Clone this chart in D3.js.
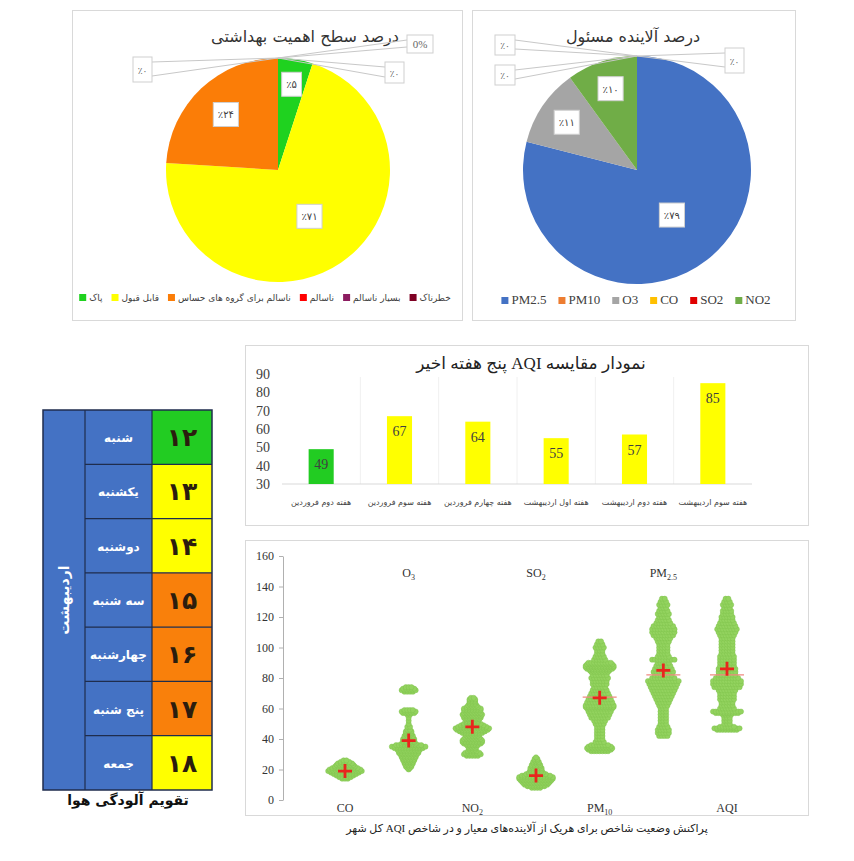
<!DOCTYPE html>
<html lang="fa">
<head>
<meta charset="UTF-8">
<title>AQI report</title>
<script src="https://cdn.jsdelivr.net/npm/d3@7"></script>
<style>
  body { margin: 0; background: #fff; }
</style>
</head>
<body>
<svg id="chart" width="854" height="861"></svg>
<script>
// ---------- data ----------
const levelNames = ["پاک", "قابل قبول", "ناسالم برای گروه های حساس", "ناسالم", "بسیار ناسالم", "خطرناک"];
const levelShares = [5, 71, 24, 0, 0, 0];
const levelColors = ["#1fd21f", "#ffff00", "#fb7d07", "#ff0000", "#8c1c60", "#7e0023"];
const levelZeroTexts = ["٪۰", "0%", "٪۰"];

const pollutantNames = ["PM2.5", "PM10", "O3", "CO", "SO2", "NO2"];
const pollutantShares = [79, 0, 11, 0, 0, 10];
const pollutantColors = ["#4472c4", "#ed7d31", "#a5a5a5", "#ffc000", "#e00000", "#70ad47"];
const pollutantZeroTexts = ["٪۰", "٪۰", "٪۰"];

const weeks = ["هفته دوم فروردین", "هفته سوم فروردین", "هفته چهارم فروردین",
               "هفته اول اردیبهشت", "هفته دوم اردیبهشت", "هفته سوم اردیبهشت"];
const weekAqi = [49, 67, 64, 55, 57, 85];
const weekColors = ["#22cc22", "#ffff00", "#ffff00", "#ffff00", "#ffff00", "#ffff00"];
const barTicks = [30, 40, 50, 60, 70, 80, 90];

const dayNames = ["شنبه", "یکشنبه", "دوشنبه", "سه شنبه", "چهارشنبه", "پنج شنبه", "جمعه"];
const dayDates = [12, 13, 14, 15, 16, 17, 18];
const dayColors = ["#22cc22", "#ffff00", "#ffff00", "#f9800b", "#f9800b", "#f9800b", "#ffff00"];
const monthName = "اردیبهشت";

const swarmKeys = ["CO", "O3", "NO2", "SO2", "PM10", "PM2.5", "AQI"];
const swarmBase = ["CO", "O", "NO", "SO", "PM", "PM", "AQI"];
const swarmSub = ["", "3", "2", "2", "10", "2.5", ""];
const swarmMeans = [19, 39, 48, 16, 67, 85, 86];
const swarmMedians = [null, null, null, null, 67.5, 82, 82];
const scatterTicks = [0, 20, 40, 60, 80, 100, 120, 140, 160];
// [value, number of stations/days at that value]
const coSwarm = [[14,3],[15,5],[16,7],[17,9],[18,11],[19,13],[20,12],[21,10],[22,8],[23,7],[24,6],[25,4],[26,2]];
const o3Swarm = [[20,1],[21,2],[22,3],[23,3],[24,4],[25,4],[26,5],[27,5],[28,6],[29,6],[30,7],[31,8],[32,8],[33,9],[34,11],[35,13],[36,10],[37,6],[38,5],[39,5],[40,5],[41,4],[42,4],[43,3],[44,3],[45,3],[46,2],[48,2],[50,1],[52,1],[54,1],[56,2],[57,5],[58,6],[59,4],[71,4],[72,6],[73,5],[74,3]];
const no2Swarm = [[29,5],[30,7],[31,6],[32,4],[33,3],[34,3],[35,4],[36,5],[37,7],[38,8],[39,8],[40,7],[41,6],[42,5],[43,6],[44,8],[45,10],[46,12],[47,13],[48,11],[49,9],[50,7],[51,5],[52,5],[53,6],[54,7],[55,7],[56,8],[57,7],[58,6],[59,7],[60,7],[61,5],[62,4],[63,3],[64,3],[65,3],[66,3],[67,2]];
const so2Swarm = [[8,4],[9,7],[10,9],[11,10],[12,11],[13,12],[14,13],[15,13],[16,11],[17,8],[18,6],[19,5],[20,5],[21,5],[22,4],[23,4],[24,3],[25,3],[26,2],[27,2],[28,1]];
const pm10Swarm = [[32,7],[33,9],[34,10],[35,9],[36,7],[38,4],[40,3],[42,3],[44,3],[46,3],[48,3],[50,4],[52,5],[54,7],[56,8],[58,9],[60,10],[61,11],[62,11],[64,10],[66,9],[68,8],[70,7],[72,6],[74,5],[76,6],[78,6],[80,7],[82,6],[84,7],[85,8],[86,10],[87,11],[88,11],[89,10],[90,9],[92,5],[94,4],[96,3],[98,3],[100,4],[102,3],[104,2]];
const pm25Swarm = [[42,4],[44,5],[46,5],[48,4],[50,3],[52,3],[54,3],[56,3],[58,3],[60,3],[62,4],[64,5],[66,6],[68,7],[70,8],[72,9],[74,10],[76,11],[78,12],[80,9],[82,7],[84,8],[86,7],[88,6],[90,5],[92,9],[94,5],[96,4],[98,4],[100,4],[102,4],[104,5],[106,6],[108,8],[110,9],[112,9],[114,8],[116,6],[118,5],[120,4],[122,5],[124,4],[126,3],[128,4],[130,3],[132,2]];
const aqiSwarm = [[46,8],[47,10],[48,6],[50,3],[52,3],[54,3],[56,4],[57,9],[58,11],[60,6],[62,5],[64,5],[66,6],[68,6],[70,6],[72,7],[74,10],[76,11],[78,11],[80,9],[82,7],[84,7],[86,7],[88,6],[90,6],[92,6],[94,6],[96,5],[98,5],[100,5],[102,5],[104,5],[106,5],[108,6],[110,7],[112,8],[114,7],[116,6],[118,5],[120,5],[122,4],[124,4],[126,3],[128,4],[130,3],[132,2]];
const swarms = [coSwarm, o3Swarm, no2Swarm, so2Swarm, pm10Swarm, pm25Swarm, aqiSwarm];

// ---------- helpers ----------
const svg = d3.select("#chart");
const SERIF = '"Liberation Serif", "DejaVu Sans", serif';
const FA = '"DejaVu Sans", sans-serif';
const toFa = n => String(n).replace(/\d/g, d => "۰۱۲۳۴۵۶۷۸۹"[+d]);

// panel frames
[[72, 10, 390, 310], [472, 10, 323, 310], [245, 345, 563, 180], [245, 540, 563, 275]]
  .forEach(([x, y, w, h]) => svg.append("rect")
    .attr("x", x + 0.5).attr("y", y + 0.5).attr("width", w).attr("height", h)
    .attr("fill", "none").attr("stroke", "#d9d9d9"));

// ---------- pies ----------
function drawPie(opts) {
  const { names, shares, colors, zeroTexts, cx, cy, r, title, titleX, zeroBoxes, legendY, legendFont, legendSize, legendGap, legendCenter } = opts;
  const g = svg.append("g");

  g.append("text").attr("x", titleX).attr("y", 42)
    .attr("text-anchor", "middle").attr("direction", "rtl")
    .style("font-family", FA).style("font-size", "16px").attr("fill", "#333")
    .text(title);

  const pie = d3.pie().sort(null).value(d => d)(shares);
  const arc = d3.arc().innerRadius(0).outerRadius(r);

  g.selectAll("path.slice").data(pie.filter(d => d.value > 0)).enter()
    .append("path")
    .attr("transform", `translate(${cx},${cy})`)
    .attr("d", arc)
    .attr("fill", d => colors[d.index]);

  // labels on non-zero slices
  pie.filter(d => d.value > 0).forEach(d => {
    const mid = (d.startAngle + d.endAngle) / 2;
    const k = d.value > 50 ? 0.5 : 0.8 - d.value / 200;
    const lx = cx + Math.sin(mid) * r * k;
    const ly = cy - Math.cos(mid) * r * k;
    const t = g.append("text").attr("x", lx).attr("y", ly + 4)
      .attr("text-anchor", "middle")
      .style("font-family", FA).style("font-size", "10px").attr("fill", "#404040")
      .text("٪" + toFa(d.value));
    const w = t.node().getComputedTextLength() + 9;
    g.insert("rect", () => t.node())
      .attr("x", lx - w / 2).attr("y", ly - 12).attr("width", w).attr("height", 24)
      .attr("fill", "#fff").attr("stroke", "#d0d0d0");
  });

  // zero slices: boxes with leader lines to the top of the pie
  const top = [cx, cy - r];
  pie.filter(d => d.value === 0).forEach((d, i) => {
    const b = zeroBoxes[i];
    const edgeX = b.x < cx ? b.x + b.w : b.x;
    g.append("path")
      .attr("d", `M${edgeX},${b.y + 5}L${top[0]},${top[1]}L${edgeX},${b.y + b.h - 6}`)
      .attr("fill", "none").attr("stroke", "#c8c8c8").attr("stroke-width", 1);
    g.append("rect").attr("x", b.x).attr("y", b.y).attr("width", b.w).attr("height", b.h)
      .attr("fill", "#fff").attr("stroke", "#cfcfcf");
    g.append("text").attr("x", b.x + b.w / 2).attr("y", b.y + b.h / 2 + 4)
      .attr("text-anchor", "middle")
      .style("font-family", zeroTexts[i] === "0%" ? SERIF : FA)
      .style("font-size", zeroTexts[i] === "0%" ? "11px" : "9px").attr("fill", "#666")
      .text(zeroTexts[i]);
  });

  // legend, packed left to right and centred in the panel
  const lg = g.append("g");
  let x = 0;
  names.forEach((n, i) => {
    lg.append("rect").attr("x", x).attr("y", legendY - 7).attr("width", 7).attr("height", 7)
      .attr("fill", colors[i]);
    const t = lg.append("text").attr("x", x + 10).attr("y", legendY)
      .style("font-family", legendFont).style("font-size", legendSize).attr("fill", "#404040")
      .text(n);
    x += 10 + t.node().getComputedTextLength() + legendGap;
  });
  lg.attr("transform", `translate(${legendCenter - (x - legendGap) / 2},0)`);
}

drawPie({
  names: levelNames, shares: levelShares, colors: levelColors, zeroTexts: levelZeroTexts,
  cx: 278, cy: 170, r: 112, title: "درصد سطح اهمیت بهداشتی", titleX: 305,
  zeroBoxes: [{ x: 133, y: 57, w: 19, h: 25 }, { x: 407, y: 35, w: 26, h: 18 }, { x: 385, y: 62, w: 19, h: 21 }],
  legendY: 301, legendFont: FA, legendSize: "9px", legendGap: 9, legendCenter: 265
});

drawPie({
  names: pollutantNames, shares: pollutantShares, colors: pollutantColors, zeroTexts: pollutantZeroTexts,
  cx: 637, cy: 170, r: 114, title: "درصد آلاینده مسئول", titleX: 633,
  zeroBoxes: [{ x: 495, y: 35, w: 20, h: 20 }, { x: 495, y: 65, w: 20, h: 20 }, { x: 725, y: 48, w: 19, h: 25 }],
  legendY: 304, legendFont: SERIF, legendSize: "13px", legendGap: 12, legendCenter: 636
});

// ---------- weekly AQI bars ----------
const bx = d3.scaleBand().domain(weeks).range([282, 752]).padding(0);
const by = d3.scaleLinear().domain([30, 90]).range([484, 374]);
const bars = svg.append("g");

bars.append("text").attr("x", 531).attr("y", 369)
  .attr("text-anchor", "middle").attr("direction", "rtl")
  .style("font-family", SERIF).style("font-size", "17px").attr("fill", "#222")
  .text("نمودار مقایسه AQI پنج هفته اخیر");

bars.selectAll("line.sep").data(weeks.slice(1)).enter().append("line")
  .attr("x1", d => bx(d)).attr("x2", d => bx(d))
  .attr("y1", by(90) + 3).attr("y2", by(30))
  .attr("stroke", "#f0f0f0");

const bAxis = bars.append("g").attr("transform", "translate(272,0)")
  .call(d3.axisLeft(by).tickValues(barTicks).tickSize(0).tickPadding(2));
bAxis.select(".domain").remove();
bAxis.selectAll("text").style("font-family", SERIF).style("font-size", "14px").attr("fill", "#404040");

bars.append("line").attr("x1", 282).attr("x2", 752)
  .attr("y1", by(30)).attr("y2", by(30)).attr("stroke", "#d9d9d9");

const barW = bx.bandwidth() * 0.32;
bars.selectAll("rect.bar").data(weeks).enter().append("rect")
  .attr("x", d => bx(d) + (bx.bandwidth() - barW) / 2)
  .attr("y", (d, i) => by(weekAqi[i]))
  .attr("width", barW)
  .attr("height", (d, i) => by(30) - by(weekAqi[i]))
  .attr("fill", (d, i) => weekColors[i]);

bars.selectAll("text.val").data(weeks).enter().append("text")
  .attr("x", d => bx(d) + bx.bandwidth() / 2)
  .attr("y", (d, i) => by(weekAqi[i]) + 20)
  .attr("text-anchor", "middle")
  .style("font-family", SERIF).style("font-size", "14px").attr("fill", "#404040")
  .text((d, i) => weekAqi[i]);

bars.selectAll("text.cat").data(weeks).enter().append("text")
  .attr("x", d => bx(d) + bx.bandwidth() / 2)
  .attr("y", 505)
  .attr("text-anchor", "middle")
  .style("font-family", FA).style("font-size", "8px").attr("fill", "#404040")
  .text(d => d);

// ---------- calendar table ----------
const cal = svg.append("g");
const ry = d3.scaleBand().domain(dayNames).range([410, 790]);
const colX = [43, 85, 152, 212];
const navy = "#1f2d4d";

cal.append("rect").attr("x", colX[0]).attr("y", 410).attr("width", colX[2] - colX[0]).attr("height", 380)
  .attr("fill", "#4472c4");
cal.selectAll("rect.num").data(dayNames).enter().append("rect")
  .attr("x", colX[2]).attr("y", d => ry(d)).attr("width", colX[3] - colX[2]).attr("height", ry.bandwidth())
  .attr("fill", (d, i) => dayColors[i]);

// grid lines
cal.selectAll("line.row").data(dayNames.slice(1)).enter().append("line")
  .attr("x1", colX[1]).attr("x2", colX[3]).attr("y1", d => ry(d)).attr("y2", d => ry(d))
  .attr("stroke", navy).attr("stroke-width", 1.2);
[colX[1], colX[2]].forEach(x => cal.append("line")
  .attr("x1", x).attr("x2", x).attr("y1", 410).attr("y2", 790)
  .attr("stroke", navy).attr("stroke-width", 1.2));
cal.append("rect").attr("x", colX[0]).attr("y", 410).attr("width", colX[3] - colX[0]).attr("height", 380)
  .attr("fill", "none").attr("stroke", navy).attr("stroke-width", 1.5);

cal.selectAll("text.day").data(dayNames).enter().append("text")
  .attr("x", (colX[1] + colX[2]) / 2).attr("y", d => ry(d) + ry.bandwidth() / 2 + 5)
  .attr("text-anchor", "middle")
  .style("font-family", FA).style("font-size", "12px").style("font-weight", "bold").attr("fill", "#fff")
  .text(d => d);

cal.selectAll("text.date").data(dayNames).enter().append("text")
  .attr("x", (colX[2] + colX[3]) / 2).attr("y", d => ry(d) + ry.bandwidth() / 2 + 9)
  .attr("text-anchor", "middle")
  .style("font-family", FA).style("font-size", "25px").style("font-weight", "bold").attr("fill", "#2b1d0e")
  .text((d, i) => toFa(dayDates[i]));

cal.append("text")
  .attr("transform", `translate(${(colX[0] + colX[1]) / 2 + 5},600) rotate(-90)`)
  .attr("text-anchor", "middle")
  .style("font-family", FA).style("font-size", "14px").style("font-weight", "bold").attr("fill", "#fff")
  .text(monthName);

cal.append("text").attr("x", 128).attr("y", 805)
  .attr("text-anchor", "middle")
  .style("font-family", FA).style("font-size", "14px").style("font-weight", "bold").attr("fill", "#111")
  .text("تقویم آلودگی هوا");

// ---------- beeswarm of pollutants ----------
const sc = svg.append("g");
const sx = d3.scalePoint().domain(swarmKeys).range([345, 727]);
const sy = d3.scaleLinear().domain([0, 160]).range([800, 556]);

const sAxis = sc.append("g").attr("transform", "translate(283,0)")
  .call(d3.axisLeft(sy).tickValues(scatterTicks).tickSize(4).tickSizeOuter(0).tickPadding(5));
sAxis.select(".domain").attr("stroke", "#b0b0b0");
sAxis.selectAll(".tick line").attr("stroke", "#b0b0b0");
sAxis.selectAll("text").style("font-family", SERIF).style("font-size", "12px").attr("fill", "#333");

const step = 2.8;
swarmKeys.forEach((k, ci) => {
  const cxp = sx(k);
  const dots = [];
  swarms[ci].forEach(([v, n]) => {
    for (let j = 0; j < n; j++) dots.push({ x: cxp + (j - (n - 1) / 2) * step, y: sy(v) });
  });
  sc.append("g").selectAll("circle").data(dots).enter().append("circle")
    .attr("cx", d => d.x).attr("cy", d => d.y).attr("r", 2.6)
    .attr("fill", "#93d35f").attr("stroke", "#7cc04a").attr("stroke-width", 0.4);

  if (swarmMedians[ci] !== null) {
    sc.append("line")
      .attr("x1", cxp - 17).attr("x2", cxp + 17)
      .attr("y1", sy(swarmMedians[ci])).attr("y2", sy(swarmMedians[ci]))
      .attr("stroke", "#f08a80").attr("stroke-width", 1.2);
  }
  const my = sy(swarmMeans[ci]);
  sc.append("path")
    .attr("d", `M${cxp - 7},${my}H${cxp + 7}M${cxp},${my - 7}V${my + 7}`)
    .attr("stroke", "#e8261d").attr("stroke-width", 2.8);

  // category labels alternate between bottom and top
  const lbl = sc.append("text").attr("x", cxp)
    .attr("y", ci % 2 === 0 ? 812 : 577)
    .attr("text-anchor", "middle")
    .style("font-family", SERIF).style("font-size", "12px").attr("fill", "#333")
    .text(swarmBase[ci]);
  if (swarmSub[ci]) {
    lbl.append("tspan").attr("dy", 3).style("font-size", "8px").text(swarmSub[ci]);
  }
});

svg.append("text").attr("x", 527).attr("y", 832)
  .attr("text-anchor", "middle").attr("direction", "rtl")
  .style("font-family", SERIF).style("font-size", "11px").attr("fill", "#222")
  .text("پراکنش وضعیت شاخص برای هریک از آلاینده‌های معیار و در شاخص AQI کل شهر");
</script>
</body>
</html>
